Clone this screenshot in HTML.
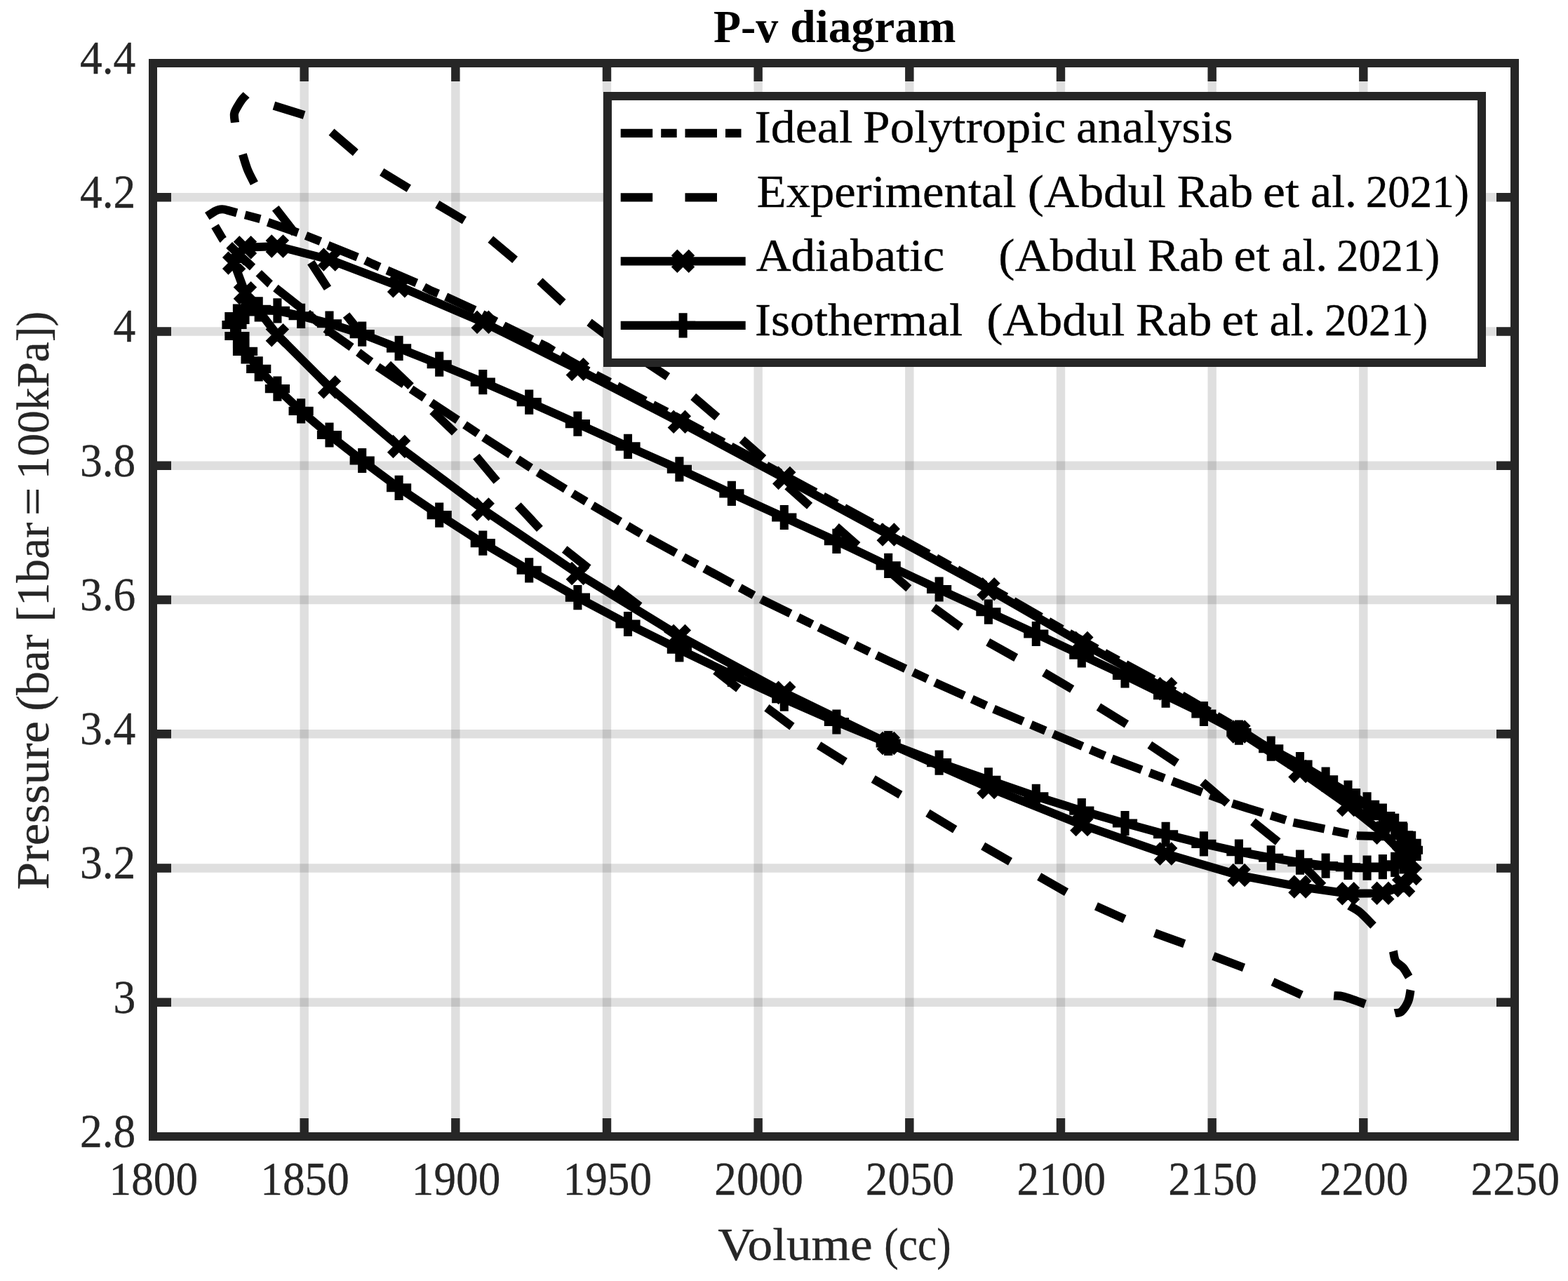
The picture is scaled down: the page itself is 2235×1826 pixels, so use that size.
<!DOCTYPE html>
<html lang="en"><head><meta charset="utf-8"><title>P-v diagram</title>
<style>html,body{margin:0;padding:0;background:#fff;overflow:hidden}svg{display:block}</style></head>
<body>
<svg width="2235" height="1826" viewBox="0 0 2235 1826">
<rect width="2235" height="1826" fill="#fff"/>
<path d="M433.67 90.00V1620.00M649.33 90.00V1620.00M865.00 90.00V1620.00M1080.67 90.00V1620.00M1296.33 90.00V1620.00M1512.00 90.00V1620.00M1727.67 90.00V1620.00M1943.33 90.00V1620.00" stroke="#262626" stroke-opacity="0.15" stroke-width="12.4" fill="none"/>
<path d="M218.00 281.25H2159.00M218.00 472.50H2159.00M218.00 663.75H2159.00M218.00 855.00H2159.00M218.00 1046.25H2159.00M218.00 1237.50H2159.00M218.00 1428.75H2159.00" stroke="#262626" stroke-opacity="0.15" stroke-width="12.4" fill="none"/>
<path d="M433.67 1620.00v-26.0M433.67 90.00v26.0M649.33 1620.00v-26.0M649.33 90.00v26.0M865.00 1620.00v-26.0M865.00 90.00v26.0M1080.67 1620.00v-26.0M1080.67 90.00v26.0M1296.33 1620.00v-26.0M1296.33 90.00v26.0M1512.00 1620.00v-26.0M1512.00 90.00v26.0M1727.67 1620.00v-26.0M1727.67 90.00v26.0M1943.33 1620.00v-26.0M1943.33 90.00v26.0M218.00 281.25h26.0M2159.00 281.25h-26.0M218.00 472.50h26.0M2159.00 472.50h-26.0M218.00 663.75h26.0M2159.00 663.75h-26.0M218.00 855.00h26.0M2159.00 855.00h-26.0M218.00 1046.25h26.0M2159.00 1046.25h-26.0M218.00 1237.50h26.0M2159.00 1237.50h-26.0M218.00 1428.75h26.0M2159.00 1428.75h-26.0" stroke="#262626" stroke-width="12.4" fill="none"/>
<rect x="218.0" y="90.0" width="1941.00" height="1530.00" fill="none" stroke="#262626" stroke-width="12"/>
<g fill="none" stroke="#000" stroke-width="12.1" stroke-linejoin="round">
<path d="M295.3 308.2L306 301.3Q314.7 296.3 324 299.6L338.2 303.5L350.0 306.5L372.4 312.4L381.2 316.5L426.5 332.4L435.9 335.9L458.2 344.7L467.1 349.4L510.6 367.1L519.4 370.6L530.5 375.9L550.8 384.9L594.0 403.5L613.8 414.0L635.5 423.0L677.9 442.5L718.5 464.5L758.3 484.0L779.5 494.2L812.0 514.1L840.0 529.5L880.0 550.2L920.0 571.3L960.0 592.1L1000.0 613.6L1040.0 635.3L1080.0 656.9L1120.0 678.6L1160.0 700.3L1200.0 722.0L1240.0 743.8L1280.0 765.7L1320.0 787.6L1360.0 809.5L1400.0 831.4L1440.0 854.2L1480.0 877.3L1520.0 900.4L1560.0 922.8L1600.0 944.5L1640.0 966.1L1680.0 988.6L1720.0 1012.0L1760.0 1035.4L1800.0 1061.0L1840.0 1087.0L1880.0 1114.6L1920.0 1143.0L1960.0 1175.4L2003.0 1193.0" stroke-dasharray="45.5 12 22.5 11.8"/>
<path d="M306.5 322.4L317.6 341.2L367.1 387.6L384.7 404.7L392.9 410.6" stroke-dasharray="22.5 12 45.5 12 22.5 40"/>
<path d="M392.9 410.6L431.8 441.2L463.0 467.8L501.2 495.1L538.2 522.8" stroke-dasharray="45.5 12 22.5 11.8"/>
<path d="M538.2 522.8L689.4 623.5" stroke-dasharray="45.5 12 22.5 11.8"/>
<path d="M689.4 623.5L767.1 673.5" stroke-dasharray="45.5 12 22.5 11.8"/>
<path d="M767.1 673.5L844.7 720.6" stroke-dasharray="45.5 12 22.5 11.8"/>
<path d="M844.7 720.6L923.5 766.5" stroke-dasharray="45.5 12 22.5 11.8"/>
<path d="M923.5 766.5L1085.9 854.7" stroke-dasharray="45.5 12 22.5 11.8"/>
<path d="M1085.9 854.7L1167.1 894.4" stroke-dasharray="45.5 12 22.5 11.8"/>
<path d="M1167.1 894.4L1249.4 934.1" stroke-dasharray="45.5 12 22.5 11.8"/>
<path d="M1249.4 934.1L1332.9 972.9" stroke-dasharray="45.5 12 22.5 11.8"/>
<path d="M1332.9 972.9L1416.5 1010.6" stroke-dasharray="45.5 12 22.5 11.8"/>
<path d="M1416.5 1010.6L1584.7 1081.5" stroke-dasharray="45.5 12 22.5 11.8"/>
<path d="M1584.7 1081.5L1756.5 1145.3" stroke-dasharray="45.5 12 22.5 11.8"/>
<path d="M1756.5 1145.3L1843.5 1172.4" stroke-dasharray="45.5 12 22.5 11.8"/>
<path d="M1843.5 1172.4L1934.1 1191.2" stroke-dasharray="45.5 12 22.5 11.8"/>
<path d="M1934.1 1191.2L2003.0 1193.0" stroke-dasharray="45.5 12 22.5 11.8"/>
<path d="M335.0 174.7C334.8 172.7 333.4 166.2 333.9 162.5C334.4 158.8 336.2 156.2 338.1 152.8C340.0 149.4 342.8 144.7 345.0 141.8C347.2 138.9 350.2 136.3 351.2 135.2M390.4 150.6L433.6 164.0M472.5 188.2L506.8 217.6M544.2 245.2L582.8 268.7M623.3 291.3L661.9 314.1M699.3 341.2L734.1 370.4M769.4 400.6L802.4 431.2M840.0 459.4L875.0 486.0M914.0 512.0L951.8 537.0M988.2 565.3L1022.4 594.7M1057.6 626.5L1088.2 653.5M1122.4 692.9L1154.1 721.2M1191.8 750.6L1222.4 777.6M1264.7 811.8L1295.3 838.8M1330.6 865.9L1369.4 894.1M1408.2 915.3L1448.2 937.6M1488.2 958.8L1528.2 982.4M1565.9 1007.6L1605.9 1032.4M1638.8 1061.8L1677.6 1087.6M1714.1 1114.7L1749.4 1145.3M1785.9 1171.2L1821.7 1200.0M1851.8 1227.6L1885.9 1262.9M1923.5 1291.2C1926.0 1292.8 1933.1 1295.9 1938.8 1300.6C1944.5 1305.3 1954.5 1316.3 1957.6 1319.4M1985.9 1355.9C1986.5 1358.2 1987.1 1366.1 1989.4 1370.0C1991.8 1373.9 1996.9 1375.7 2000.0 1379.4C2003.1 1383.1 2006.8 1390.2 2008.2 1392.4M345.9 220.0C347.1 223.7 350.2 235.1 353.0 242.0C355.8 248.9 360.8 258.0 362.4 261.2M392.7 296.8L420.5 332.4M443.2 374.0L467.0 410.8M493.6 448.9L521.7 484.1M552.9 519.1L585.6 550.6M616.5 585.9L648.2 616.5M678.8 650.6L708.2 685.9M738.2 720.3L769.4 753.8M804.7 782.9L838.8 810.0M877.6 838.2L911.8 864.1M949.4 895.9L985.0 920.0M1020.0 955.9L1052.9 981.8M1092.9 1008.8L1129.0 1035.6M1167.1 1062.4L1204.7 1085.9M1244.7 1110.6L1283.5 1132.9M1322.4 1158.8L1361.2 1182.4M1401.2 1205.9L1440.0 1228.2M1481.2 1249.4L1520.0 1271.8M1562.4 1291.8L1603.0 1310.0M1645.9 1330.0L1688.2 1345.3M1729.4 1362.9L1772.9 1379.4M1814.1 1399.4L1855.3 1418.2M1901.2 1419.4C1903.5 1419.6 1907.8 1418.6 1915.3 1420.6C1922.8 1422.6 1940.8 1429.4 1945.9 1431.2M1988.2 1444.1C1989.8 1443.7 1994.4 1444.5 1997.6 1441.8C2000.8 1439.0 2004.9 1432.7 2007.1 1427.6C2009.3 1422.5 2010.0 1413.9 2010.6 1411.2"/>
<path d="M339.2 361.6L349.5 352.8L395.4 351.0L469.5 370.0L568.6 407.9L688.3 459.2L823.4 526.4L968.4 601.3L1117.8 681.4L1266.2 762.0L1408.9 839.8L1541.8 916.5L1661.6 981.8L1765.9 1042.9L1853.0 1099.4L1921.5 1147.6L1970.9 1187.2L2000.6 1218.0L2010.5 1245.4L2000.6 1262.4L1970.9 1273.3L1921.5 1273.8L1853.0 1264.1L1765.9 1247.6L1661.6 1217.0L1541.8 1175.6L1408.9 1122.4L1266.2 1059.5L1117.8 987.4L968.4 906.5L823.4 817.5L688.3 725.9L568.6 636.5L469.5 551.8L395.4 477.6L349.5 417.6L333.7 375.0Z"/>
<path d="M326.8 349.2l24.9 24.9M326.8 374.1l24.9 -24.9M337.0 340.4l24.9 24.9M337.0 365.2l24.9 -24.9M382.9 338.6l24.9 24.9M382.9 363.4l24.9 -24.9M457.1 357.6l24.9 24.9M457.1 382.4l24.9 -24.9M556.2 395.4l24.9 24.9M556.2 420.3l24.9 -24.9M675.8 446.8l24.9 24.9M675.8 471.6l24.9 -24.9M810.9 513.9l24.9 24.9M810.9 538.9l24.9 -24.9M955.9 588.8l24.9 24.9M955.9 613.8l24.9 -24.9M1105.3 668.9l24.9 24.9M1105.3 693.9l24.9 -24.9M1253.8 749.5l24.9 24.9M1253.8 774.5l24.9 -24.9M1396.5 827.3l24.9 24.9M1396.5 852.2l24.9 -24.9M1529.4 904.0l24.9 24.9M1529.4 929.0l24.9 -24.9M1649.2 969.3l24.9 24.9M1649.2 994.2l24.9 -24.9M1753.5 1030.5l24.9 24.9M1753.5 1055.4l24.9 -24.9M1840.5 1087.0l24.9 24.9M1840.5 1111.9l24.9 -24.9M1909.1 1135.1l24.9 24.9M1909.1 1160.0l24.9 -24.9M1958.4 1174.8l24.9 24.9M1958.4 1199.7l24.9 -24.9M1988.2 1205.5l24.9 24.9M1988.2 1230.5l24.9 -24.9M1998.1 1233.0l24.9 24.9M1998.1 1257.9l24.9 -24.9M1988.2 1250.0l24.9 24.9M1988.2 1274.9l24.9 -24.9M1958.4 1260.8l24.9 24.9M1958.4 1285.8l24.9 -24.9M1909.1 1261.3l24.9 24.9M1909.1 1286.2l24.9 -24.9M1840.5 1251.6l24.9 24.9M1840.5 1276.5l24.9 -24.9M1753.5 1235.1l24.9 24.9M1753.5 1260.0l24.9 -24.9M1649.2 1204.5l24.9 24.9M1649.2 1229.5l24.9 -24.9M1529.4 1163.1l24.9 24.9M1529.4 1188.0l24.9 -24.9M1396.5 1110.0l24.9 24.9M1396.5 1134.9l24.9 -24.9M1253.8 1047.0l24.9 24.9M1253.8 1072.0l24.9 -24.9M1105.3 974.9l24.9 24.9M1105.3 999.9l24.9 -24.9M955.9 894.0l24.9 24.9M955.9 919.0l24.9 -24.9M810.9 805.0l24.9 24.9M810.9 830.0l24.9 -24.9M675.8 713.4l24.9 24.9M675.8 738.4l24.9 -24.9M556.2 624.0l24.9 24.9M556.2 649.0l24.9 -24.9M457.1 539.3l24.9 24.9M457.1 564.2l24.9 -24.9M382.9 465.2l24.9 24.9M382.9 490.1l24.9 -24.9M337.0 405.2l24.9 24.9M337.0 430.1l24.9 -24.9M321.2 362.6l24.9 24.9M321.2 387.4l24.9 -24.9"/>
<path d="M334.0 463.0L337.9 451.0L349.5 444.5L368.7 440.9L395.4 442.8L429.1 450.3L469.5 461.2L516.2 476.1L568.6 496.4L626.2 519.2L688.3 544.6L754.2 573.1L823.4 604.1L895.0 636.4L968.4 668.8L1042.9 703.4L1117.8 737.5L1192.4 771.3L1266.2 806.4L1338.6 840.0L1408.9 872.2L1476.8 903.5L1541.8 933.8L1603.5 962.9L1661.6 991.2L1715.9 1017.5L1765.9 1044.1L1811.7 1067.2L1853.0 1089.5L1889.6 1111.2L1921.5 1130.0L1948.6 1146.8L1970.9 1163.1L1988.2 1177.4L2000.6 1190.9L2008.1 1201.8L2010.5 1211.8L2008.1 1220.9L2000.6 1228.0L1988.2 1232.4L1970.9 1235.6L1948.6 1237.2L1921.5 1236.3L1889.6 1234.1L1853.0 1229.2L1811.7 1222.8L1765.9 1214.2L1715.9 1202.9L1661.6 1189.3L1603.5 1173.5L1541.8 1155.6L1476.8 1135.3L1408.9 1111.8L1338.6 1087.1L1266.2 1059.5L1192.4 1029.0L1117.8 996.2L1042.9 961.5L968.4 925.8L895.0 889.5L823.4 851.6L754.2 812.8L688.3 774.1L626.2 734.1L568.6 695.3L516.2 656.5L469.5 620.0L429.1 585.9L395.4 554.1L368.7 525.9L349.5 500.9L337.9 479.0Z"/>
<path d="M316.4 463.0h35.2M334.0 445.4v35.2M320.3 451.0h35.2M337.9 433.4v35.2M331.9 444.5h35.2M349.5 426.9v35.2M351.1 440.9h35.2M368.7 423.3v35.2M377.8 442.8h35.2M395.4 425.2v35.2M411.5 450.3h35.2M429.1 432.7v35.2M451.9 461.2h35.2M469.5 443.6v35.2M498.6 476.1h35.2M516.2 458.5v35.2M551.0 496.4h35.2M568.6 478.8v35.2M608.6 519.2h35.2M626.2 501.6v35.2M670.7 544.6h35.2M688.3 527.0v35.2M736.6 573.1h35.2M754.2 555.5v35.2M805.8 604.1h35.2M823.4 586.5v35.2M877.4 636.4h35.2M895.0 618.8v35.2M950.8 668.8h35.2M968.4 651.2v35.2M1025.3 703.4h35.2M1042.9 685.8v35.2M1100.2 737.5h35.2M1117.8 719.9v35.2M1174.8 771.3h35.2M1192.4 753.7v35.2M1248.6 806.4h35.2M1266.2 788.8v35.2M1321.0 840.0h35.2M1338.6 822.4v35.2M1391.3 872.2h35.2M1408.9 854.6v35.2M1459.2 903.5h35.2M1476.8 885.9v35.2M1524.2 933.8h35.2M1541.8 916.2v35.2M1585.9 962.9h35.2M1603.5 945.3v35.2M1644.0 991.2h35.2M1661.6 973.6v35.2M1698.3 1017.5h35.2M1715.9 999.9v35.2M1748.3 1044.1h35.2M1765.9 1026.5v35.2M1794.1 1067.2h35.2M1811.7 1049.6v35.2M1835.4 1089.5h35.2M1853.0 1071.9v35.2M1872.0 1111.2h35.2M1889.6 1093.6v35.2M1903.9 1130.0h35.2M1921.5 1112.4v35.2M1931.0 1146.8h35.2M1948.6 1129.2v35.2M1953.3 1163.1h35.2M1970.9 1145.5v35.2M1970.6 1177.4h35.2M1988.2 1159.8v35.2M1983.0 1190.9h35.2M2000.6 1173.3v35.2M1990.5 1201.8h35.2M2008.1 1184.2v35.2M1992.9 1211.8h35.2M2010.5 1194.2v35.2M1990.5 1220.9h35.2M2008.1 1203.3v35.2M1983.0 1228.0h35.2M2000.6 1210.4v35.2M1970.6 1232.4h35.2M1988.2 1214.8v35.2M1953.3 1235.6h35.2M1970.9 1218.0v35.2M1931.0 1237.2h35.2M1948.6 1219.6v35.2M1903.9 1236.3h35.2M1921.5 1218.7v35.2M1872.0 1234.1h35.2M1889.6 1216.5v35.2M1835.4 1229.2h35.2M1853.0 1211.6v35.2M1794.1 1222.8h35.2M1811.7 1205.2v35.2M1748.3 1214.2h35.2M1765.9 1196.6v35.2M1698.3 1202.9h35.2M1715.9 1185.3v35.2M1644.0 1189.3h35.2M1661.6 1171.7v35.2M1585.9 1173.5h35.2M1603.5 1155.9v35.2M1524.2 1155.6h35.2M1541.8 1138.0v35.2M1459.2 1135.3h35.2M1476.8 1117.7v35.2M1391.3 1111.8h35.2M1408.9 1094.2v35.2M1321.0 1087.1h35.2M1338.6 1069.5v35.2M1248.6 1059.5h35.2M1266.2 1041.9v35.2M1174.8 1029.0h35.2M1192.4 1011.4v35.2M1100.2 996.2h35.2M1117.8 978.6v35.2M1025.3 961.5h35.2M1042.9 943.9v35.2M950.8 925.8h35.2M968.4 908.2v35.2M877.4 889.5h35.2M895.0 871.9v35.2M805.8 851.6h35.2M823.4 834.0v35.2M736.6 812.8h35.2M754.2 795.2v35.2M670.7 774.1h35.2M688.3 756.5v35.2M608.6 734.1h35.2M626.2 716.5v35.2M551.0 695.3h35.2M568.6 677.7v35.2M498.6 656.5h35.2M516.2 638.9v35.2M451.9 620.0h35.2M469.5 602.4v35.2M411.5 585.9h35.2M429.1 568.3v35.2M377.8 554.1h35.2M395.4 536.5v35.2M351.1 525.9h35.2M368.7 508.3v35.2M331.9 500.9h35.2M349.5 483.3v35.2M320.3 479.0h35.2M337.9 461.4v35.2"/>
</g>
<rect x="866" y="137" width="1246.0" height="380.0" fill="#fff" stroke="#262626" stroke-width="12"/>
<g fill="none" stroke="#000" stroke-width="12.1">
<path d="M884.7 189.9H1062.7" stroke-dasharray="45.5 12 22.5 11.8"/>
<path d="M884.7 281.4H1062.7" stroke-dasharray="45.5 46.3"/>
<path d="M884.7 372.4H1062.7"/>
<path d="M884.7 463.9H1062.7"/>
<path d="M961.1 359.9l24.9 24.9M961.1 384.8l24.9 -24.9"/>
<path d="M956.0 463.9h35.2M973.6 446.3v35.2"/>
</g>
<g font-family="'Liberation Serif', serif" font-size="65.0" fill="#000" stroke="#000" stroke-width="0.35" stroke-linejoin="round">
<text y="203.2"><tspan x="1075.45" textLength="139.95" lengthAdjust="spacingAndGlyphs">Ideal</tspan><tspan> </tspan><tspan x="1230.12" textLength="289.12" lengthAdjust="spacingAndGlyphs">Polytropic</tspan><tspan> </tspan><tspan x="1534.07" textLength="223.57" lengthAdjust="spacingAndGlyphs">analysis</tspan></text>
<text y="295.2"><tspan x="1078.74" textLength="369.80" lengthAdjust="spacingAndGlyphs">Experimental</tspan><tspan> </tspan><tspan x="1464.87" textLength="197.09" lengthAdjust="spacingAndGlyphs">(Abdul</tspan><tspan> </tspan><tspan x="1677.68" textLength="108.37" lengthAdjust="spacingAndGlyphs">Rab</tspan><tspan> </tspan><tspan x="1800.02" textLength="51.96" lengthAdjust="spacingAndGlyphs">et</tspan><tspan> </tspan><tspan x="1868.13" textLength="65.78" lengthAdjust="spacingAndGlyphs">al.</tspan><tspan> </tspan><tspan x="1946.66" textLength="147.26" lengthAdjust="spacingAndGlyphs">2021)</tspan></text>
<text y="386.0"><tspan x="1077.71" textLength="268.46" lengthAdjust="spacingAndGlyphs">Adiabatic</tspan><tspan>     </tspan><tspan x="1423.27" textLength="197.09" lengthAdjust="spacingAndGlyphs">(Abdul</tspan><tspan> </tspan><tspan x="1636.08" textLength="108.37" lengthAdjust="spacingAndGlyphs">Rab</tspan><tspan> </tspan><tspan x="1758.42" textLength="51.96" lengthAdjust="spacingAndGlyphs">et</tspan><tspan> </tspan><tspan x="1826.53" textLength="65.78" lengthAdjust="spacingAndGlyphs">al.</tspan><tspan> </tspan><tspan x="1905.06" textLength="147.26" lengthAdjust="spacingAndGlyphs">2021)</tspan></text>
<text y="477.6"><tspan x="1075.98" textLength="296.26" lengthAdjust="spacingAndGlyphs">Isothermal</tspan><tspan>  </tspan><tspan x="1406.17" textLength="197.09" lengthAdjust="spacingAndGlyphs">(Abdul</tspan><tspan> </tspan><tspan x="1618.98" textLength="108.37" lengthAdjust="spacingAndGlyphs">Rab</tspan><tspan> </tspan><tspan x="1741.32" textLength="51.96" lengthAdjust="spacingAndGlyphs">et</tspan><tspan> </tspan><tspan x="1809.43" textLength="65.78" lengthAdjust="spacingAndGlyphs">al.</tspan><tspan> </tspan><tspan x="1887.96" textLength="147.26" lengthAdjust="spacingAndGlyphs">2021)</tspan></text>
</g>
<g font-family="'Liberation Serif', serif" font-size="65.0" font-weight="bold" fill="#000">
<text y="59.5"><tspan x="1017.04" textLength="92.29" lengthAdjust="spacingAndGlyphs">P-v</tspan><tspan> </tspan><tspan x="1126.18" textLength="236.36" lengthAdjust="spacingAndGlyphs">diagram</tspan></text>
</g>
<g font-family="'Liberation Serif', serif" font-size="67" fill="#262626" stroke="#262626" stroke-width="0.3">
<text x="218.8" y="1703.4" text-anchor="middle" textLength="126.5" lengthAdjust="spacingAndGlyphs">1800</text>
<text x="434.5" y="1703.4" text-anchor="middle" textLength="126.5" lengthAdjust="spacingAndGlyphs">1850</text>
<text x="650.1" y="1703.4" text-anchor="middle" textLength="126.5" lengthAdjust="spacingAndGlyphs">1900</text>
<text x="865.8" y="1703.4" text-anchor="middle" textLength="126.5" lengthAdjust="spacingAndGlyphs">1950</text>
<text x="1081.5" y="1703.4" text-anchor="middle" textLength="126.5" lengthAdjust="spacingAndGlyphs">2000</text>
<text x="1297.1" y="1703.4" text-anchor="middle" textLength="126.5" lengthAdjust="spacingAndGlyphs">2050</text>
<text x="1512.8" y="1703.4" text-anchor="middle" textLength="126.5" lengthAdjust="spacingAndGlyphs">2100</text>
<text x="1728.5" y="1703.4" text-anchor="middle" textLength="126.5" lengthAdjust="spacingAndGlyphs">2150</text>
<text x="1944.1" y="1703.4" text-anchor="middle" textLength="126.5" lengthAdjust="spacingAndGlyphs">2200</text>
<text x="2159.8" y="1703.4" text-anchor="middle" textLength="126.5" lengthAdjust="spacingAndGlyphs">2250</text>
<text x="193.4" y="104.7" text-anchor="end" textLength="79.5" lengthAdjust="spacingAndGlyphs">4.4</text>
<text x="193.4" y="295.9" text-anchor="end" textLength="79.5" lengthAdjust="spacingAndGlyphs">4.2</text>
<text x="193.4" y="487.2" text-anchor="end" textLength="31.8" lengthAdjust="spacingAndGlyphs">4</text>
<text x="193.4" y="678.5" text-anchor="end" textLength="79.5" lengthAdjust="spacingAndGlyphs">3.8</text>
<text x="193.4" y="869.7" text-anchor="end" textLength="79.5" lengthAdjust="spacingAndGlyphs">3.6</text>
<text x="193.4" y="1061.0" text-anchor="end" textLength="79.5" lengthAdjust="spacingAndGlyphs">3.4</text>
<text x="193.4" y="1252.2" text-anchor="end" textLength="79.5" lengthAdjust="spacingAndGlyphs">3.2</text>
<text x="193.4" y="1443.5" text-anchor="end" textLength="31.8" lengthAdjust="spacingAndGlyphs">3</text>
<text x="193.4" y="1634.7" text-anchor="end" textLength="79.5" lengthAdjust="spacingAndGlyphs">2.8</text>
</g>
<g font-family="'Liberation Serif', serif" font-size="65.0" fill="#262626" stroke="#262626" stroke-width="0.35" stroke-linejoin="round">
<text y="1795.9"><tspan x="1023.19" textLength="220.55" lengthAdjust="spacingAndGlyphs">Volume</tspan><tspan> </tspan><tspan x="1260.34" textLength="95.24" lengthAdjust="spacingAndGlyphs">(cc)</tspan></text>
<text y="0" transform="translate(69.1 0) rotate(-90)"><tspan x="-1268.23" textLength="240.28" lengthAdjust="spacingAndGlyphs">Pressure</tspan><tspan> </tspan><tspan x="-1013.76" textLength="109.43" lengthAdjust="spacingAndGlyphs">(bar</tspan><tspan> </tspan><tspan x="-886.44" textLength="141.91" lengthAdjust="spacingAndGlyphs">[1bar</tspan><tspan> </tspan><tspan x="-735.08" textLength="40.39" lengthAdjust="spacingAndGlyphs">=</tspan><tspan> </tspan><tspan x="-683.15" textLength="239.44" lengthAdjust="spacingAndGlyphs">100kPa])</tspan></text>
</g>
</svg>
</body></html>
